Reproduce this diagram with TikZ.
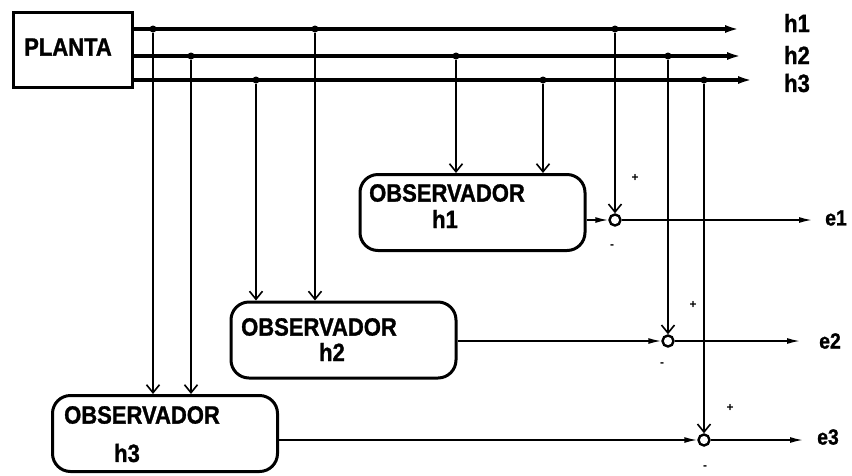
\documentclass[tikz,border=0pt]{standalone}
\usepackage{fontspec}
\setmainfont{Liberation Sans}
\newfontfamily\condfont[FakeStretch=0.88,FakeBold=1.2]{Liberation Sans}
\usetikzlibrary{arrows.meta}
\begin{document}
\begin{tikzpicture}[x=1pt,y=-1pt,
  bus/.style={line width=3.5pt,-{Latex[length=15pt,width=8pt]}},
  tap/.style={line width=1.6pt,-{Straight Barb[length=8pt,width=13pt,line width=1.6pt]}},
  sig/.style={line width=1.6pt,-{Latex[length=13pt,width=6pt]}},
  obsbox/.style={draw,line width=3pt,rounded corners=18pt,minimum width=225pt,minimum height=76pt,inner sep=0pt},
  lab/.style={font=\condfont\bfseries\fontsize{25}{25}\selectfont,inner sep=0pt},
  elab/.style={font=\condfont\bfseries\fontsize{22}{22}\selectfont,inner sep=0pt},
  dot/.style={circle,fill,inner sep=0pt,minimum size=7pt},
  sumj/.style={circle,draw,line width=2.4pt,inner sep=0pt,minimum size=11pt},
  sgn/.style={font=\bfseries\fontsize{12}{12}\selectfont,inner sep=0pt}]
\useasboundingbox (0,0) rectangle (852,475);

% plant
\node[draw,line width=3pt,minimum width=119pt,minimum height=75pt,inner sep=0pt] (planta) at (72.5,49.5) {};
\node[lab] (plantatxt) at (68,47) {PLANTA};

% bus ends
\coordinate (h1end) at (740,29);
\coordinate (h2end) at (742,56);
\coordinate (h3end) at (753,80);
\draw[bus] (planta.east |- h1end) -- (h1end);
\draw[bus] (planta.east |- h2end) -- (h2end);
\draw[bus] (planta.east |- h3end) -- (h3end);
\node[lab] (lh1) at (797,23) {h1};
\node[lab] (lh2) at (797,55) {h2};
\node[lab] (lh3) at (797,83) {h3};

% observers
\node[obsbox] (obs1) at (472.5,212.5) {};
\node[lab] (o1a) at (447,193) {OBSERVADOR};
\node[lab] (o1b) at (445,219) {h1};
\node[obsbox] (obs2) at (343.5,340) {};
\node[lab] (o2a) at (319,327) {OBSERVADOR};
\node[lab] (o2b) at (332,352) {h2};
\node[obsbox] (obs3) at (165,433.5) {};
\node[lab] (o3a) at (142,415) {OBSERVADOR};
\node[lab] (o3b) at (127,453) {h3};

% summing junctions
\node[sumj] (s1) at (615,220) {};
\node[sumj] (s2) at (668,341) {};
\node[sumj] (s3) at (704,440) {};

% taps
\node[dot] (t11) at (153,29) {};
\node[dot] (t12) at (315,29) {};
\node[dot] (t13) at (615,29) {};
\node[dot] (t21) at (191,56) {};
\node[dot] (t22) at (456,56) {};
\node[dot] (t23) at (668,56) {};
\node[dot] (t31) at (256,80) {};
\node[dot] (t32) at (543,80) {};
\node[dot] (t33) at (704,80) {};

\draw[tap] (t11) -- (t11 |- obs3.north);
\draw[tap] (t21) -- (t21 |- obs3.north);
\draw[tap] (t12) -- (t12 |- obs2.north);
\draw[tap] (t31) -- (t31 |- obs2.north);
\draw[tap] (t22) -- (t22 |- obs1.north);
\draw[tap] (t32) -- (t32 |- obs1.north);
\draw[tap] (t13) -- (s1.north);
\draw[tap] (t23) -- (s2.north);
\draw[tap] (t33) -- (s3.north);

% observer outputs into junctions
\draw[sig] (obs1.east |- s1) -- (s1.west);
\draw[sig] (obs2.east |- s2) -- (s2.west);
\draw[sig] (obs3.east |- s3) -- (s3.west);

% error outputs
\coordinate (e1end) at (812,220);
\coordinate (e2end) at (800,341);
\coordinate (e3end) at (803,440);
\draw[sig] (s1.east) -- (e1end);
\draw[sig] (s2.east) -- (e2end);
\draw[sig] (s3.east) -- (e3end);
\node[elab] (le1) at (836,218) {e1};
\node[elab] (le2) at (830,341) {e2};
\node[elab] (le3) at (828,437) {e3};

% signs
\node[sgn] (p1) at (635,178) {+};
\node[sgn] (m1) at (612,247) {-};
\node[sgn] (p2) at (693,305) {+};
\node[sgn] (m2) at (662,365) {-};
\node[sgn] (p3) at (730,408) {+};
\node[sgn] (m3) at (705,468) {-};
\end{tikzpicture}
\end{document}
